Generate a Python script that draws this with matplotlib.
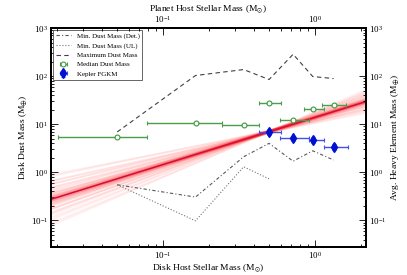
import numpy as np
import matplotlib
matplotlib.use('Agg')
import matplotlib.pyplot as plt

plt.rcParams['font.family'] = ['Liberation Serif', 'DejaVu Serif']
plt.rcParams['mathtext.fontset'] = 'stix'
plt.rcParams['font.size'] = 6.8

# stellar mass bins (Msun)
bin_mass = [0.05, 0.164, 0.34, 0.50, 0.72, 0.97, 1.33]
bin_lo = [0.0204, 0.079, 0.245, 0.43, 0.59, 0.85, 1.11]
bin_hi = [0.0785, 0.245, 0.43, 0.60, 0.91, 1.15, 1.60]

median_dust = [5.3, 10.5, 9.6, 27.0, 12.4, 20.3, 24.9]
max_dust = [6.9, 103.0, 137.0, 85.0, 285.0, 98.0, 89.0]
min_dust_det = [0.55, 0.305, 2.1, 4.0, 1.7, 2.8, 1.8]

ul_mass = [0.05, 0.164, 0.34, 0.50]
min_dust_ul = [0.55, 0.098, 1.3, 0.73]

kepler_mass = [0.50, 0.72, 0.97, 1.33]
kepler_lo = [0.43, 0.59, 0.91, 1.15]
kepler_hi = [0.60, 0.91, 1.15, 1.65]
kepler_heavy = [7.0, 5.1, 4.7, 3.4]
kepler_yerr = [0.9, 0.6, 0.6, 0.5]

# power-law fit through a pivot point, plus posterior draws
fit_pivot_x = 0.5
fit_pivot_y = 7.0
fit_slope = 0.98
sample_slopes = [0.62, 0.66, 0.70, 0.72, 0.75, 0.78, 0.80, 0.82, 0.84, 0.86,
                 0.88, 0.89, 0.90, 0.91, 0.92, 0.93, 0.93, 0.94, 0.94, 0.95,
                 0.95, 0.96, 0.96, 0.97, 0.97, 0.97, 0.98, 0.98, 0.98, 0.98,
                 0.99, 0.99, 0.99, 1.00, 1.00, 1.01, 1.01, 1.02, 1.02, 1.03,
                 1.03, 1.04, 1.05, 1.06, 1.07, 1.08, 1.10, 1.12, 1.14, 1.16,
                 1.18, 1.21, 1.24, 1.28, 1.32, 1.36]
sample_pivot_y = [6.9, 7.3, 6.6, 7.1, 6.8, 7.4, 6.7, 7.2, 7.0, 6.5,
                  7.5, 6.9, 7.1, 6.8, 7.3, 6.6, 7.0, 7.2, 6.9, 7.1,
                  6.8, 7.4, 6.7, 7.0, 7.2, 6.9, 6.6, 7.3, 7.1, 6.8,
                  7.0, 7.4, 6.7, 7.1, 6.9, 7.2, 6.8, 7.0, 7.3, 6.9,
                  7.1, 6.8, 7.0, 7.2, 6.9, 7.1, 6.7, 7.0, 7.3, 6.8,
                  7.0, 7.2, 6.9, 7.1, 6.8, 7.0]

xlim = (0.0183, 2.17)
ylim = (0.028, 1000)

fig = plt.figure(figsize=(4.07, 2.75), dpi=100)
ax = fig.add_axes([0.125, 0.102, 0.774, 0.796])

xs = np.logspace(np.log10(xlim[0]), np.log10(xlim[1]), 50)
for s, py in zip(sample_slopes, sample_pivot_y):
    ax.plot(xs, py * (xs / fit_pivot_x) ** s, color='#ff2a2a', alpha=0.08, lw=1.3)
ax.plot(xs, fit_pivot_y * (xs / fit_pivot_x) ** fit_slope, color='#d0103a', lw=1.1)

h1, = ax.plot(bin_mass, min_dust_det, ls=(0, (3, 2, 1, 2)), color='0.35', lw=0.8,
              label='Min. Dust Mass (Det.)')
h2, = ax.plot(ul_mass, min_dust_ul, ls=':', color='0.45', lw=0.8,
              label='Min. Dust Mass (UL)')
h3, = ax.plot(bin_mass, max_dust, ls=(0, (4, 3)), color='0.25', lw=0.8,
              label='Maximum Dust Mass')

xerr_med = [np.array(bin_mass) - np.array(bin_lo), np.array(bin_hi) - np.array(bin_mass)]
h4 = ax.errorbar(bin_mass, median_dust, xerr=xerr_med, fmt='o', ms=3.5,
                 mfc='white', mec='#3a9a3a', mew=0.8, ecolor='#4c9e4c',
                 elinewidth=1.0, capsize=1.5, capthick=0.8, label='Median Dust Mass')

xerr_kep = [np.array(kepler_mass) - np.array(kepler_lo), np.array(kepler_hi) - np.array(kepler_mass)]
h5 = ax.errorbar(kepler_mass, kepler_heavy, xerr=xerr_kep, yerr=kepler_yerr, fmt='d',
                 ms=5, color='#0010d0', mec='#0010d0', ecolor='#4050e8',
                 elinewidth=1.0, capsize=1.5, capthick=0.8, label='Kepler FGKM')

ax.set_xscale('log')
ax.set_yscale('log')
ax.set_xlim(*xlim)
ax.set_ylim(*ylim)
ax.set_xlabel(r'Disk Host Stellar Mass (M$_{\odot}$)', labelpad=1)
ax.set_ylabel(r'Disk Dust Mass (M$_{\oplus}$)', labelpad=1)

leg = ax.legend(handles=[h1, h2, h3, h4, h5], loc='upper left', fontsize=5,
                frameon=True, fancybox=False, edgecolor='0.3', framealpha=1,
                handlelength=2.2, borderpad=0.4, labelspacing=0.5,
                borderaxespad=0.3)
leg.get_frame().set_linewidth(0.6)

axt = ax.twiny()
axt.set_xscale('log')
axt.set_xlim(*xlim)
axt.set_xlabel(r'Planet Host Stellar Mass (M$_{\odot}$)', labelpad=2)

axr = ax.twinx()
axr.set_yscale('log')
axr.set_ylim(*ylim)
axr.set_ylabel(r'Avg. Heavy Element Mass (M$_{\oplus}$)', labelpad=2)

for a in (ax, axt, axr):
    a.tick_params(which='both', direction='in', labelsize=6.5, width=0.6, pad=2)
    a.tick_params(which='major', length=5)
    a.tick_params(which='minor', length=2.5)
    for sp in a.spines.values():
        sp.set_linewidth(1.2)

fig.savefig('out.png', dpi=100)
